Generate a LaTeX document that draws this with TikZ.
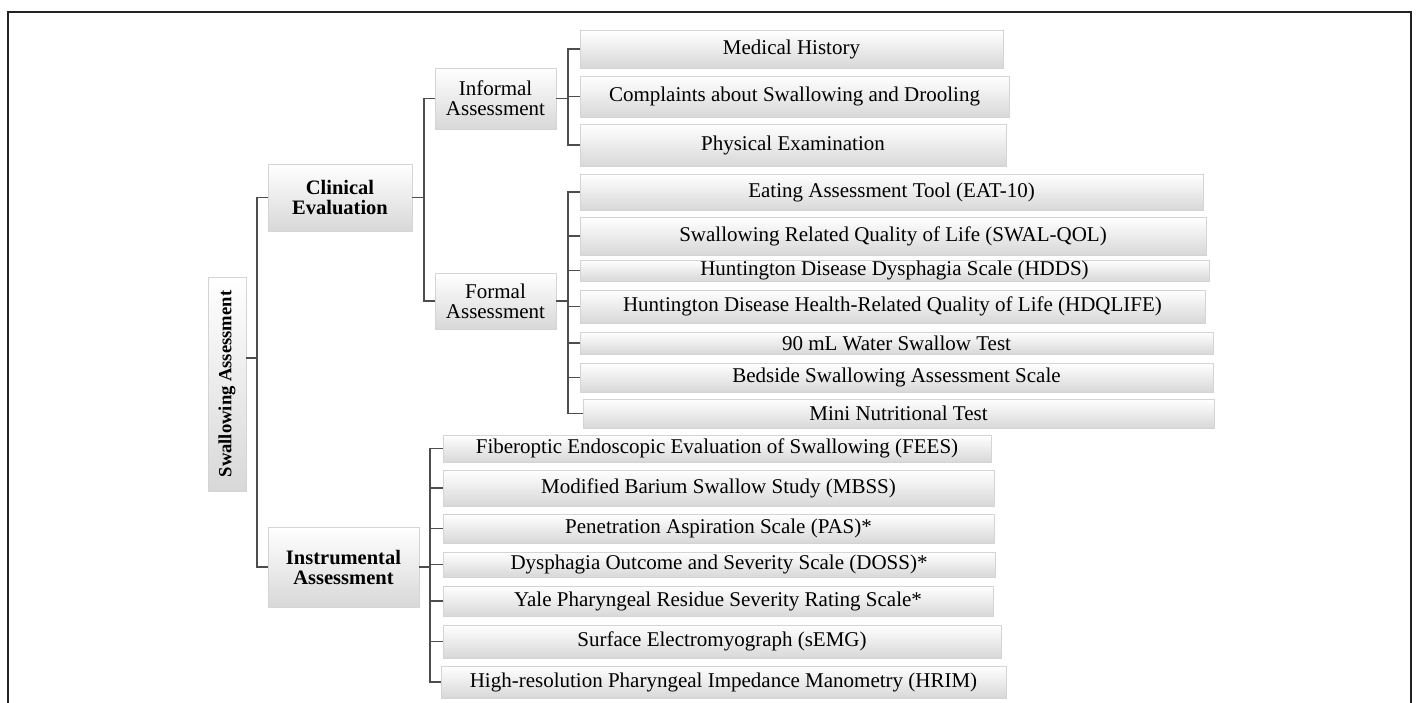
\documentclass[tikz,border=0pt]{standalone}
\usepackage{fontspec}
\setmainfont{Liberation Serif}
\definecolor{clink}{HTML}{4D4D4D}
\definecolor{cframe}{HTML}{222222}
\definecolor{cedge}{HTML}{D4D4D4}
\definecolor{cshade}{HTML}{D8D8D8}
\tikzset{
  every picture/.style={x=1pt, y=-1pt, font=\fontsize{21}{20}\selectfont},
  box/.style={draw=cedge, line width=0.8pt, top color=white, middle color=white, bottom color=cshade, align=center, inner sep=0pt},
  head/.style={box, font=\fontsize{20.5}{20}\selectfont\bfseries},
  link/.style={draw=clink, line width=1.4pt},
}

\begin{document}
\begin{tikzpicture}
  \useasboundingbox (0,0) rectangle (1418,702);
  % boxes given as left/right/top/bottom in pixels, y downwards
  \node[head, minimum width=38pt, minimum height=214pt, font=\fontsize{18.6}{20}\selectfont\bfseries] (root) at (227,384) {\rotatebox{90}{Swallowing Assessment}};
  \foreach \n/\xl/\xr/\yt/\yb/\txt in {clin/268/412/164/231/{Clinical\\Evaluation}, instr/268/419/527/607/{Instrumental\\Assessment}}
    \node[head, minimum width={(\xr-\xl)*1pt}, minimum height={(\yb-\yt)*1pt}] (\n) at ({(\xl+\xr)/2},{(\yt+\yb)/2}) {\txt};
  \foreach \n/\xl/\xr/\yt/\yb/\txt in {inf/435/556/68/129/{Informal\\Assessment}, form/435/556/273/329/{Formal\\Assessment},
      med/580/1003/30/68/{Medical History},
      comp/580/1009/76/117/{Complaints about Swallowing and Drooling},
      phys/580/1006/124/166/{Physical Examination},
      eat/580/1203/174/210/{Eating Assessment Tool (EAT-10)},
      swal/580/1206/217/255/{Swallowing Related Quality of Life (SWAL-QOL)},
      hdds/580/1209/260/281/{Huntington Disease Dysphagia Scale (HDDS)},
      hdq/580/1205/290/323/{Huntington Disease Health-Related Quality of Life (HDQLIFE)},
      wst/580/1213/332/354/{90 mL Water Swallow Test},
      bed/580/1213/363/392/{Bedside Swallowing Assessment Scale},
      mini/583/1214/399/428/{Mini Nutritional Test},
      fees/443/991/435/462/{Fiberoptic Endoscopic Evaluation of Swallowing (FEES)},
      mbss/443/994/470/506/{Modified Barium Swallow Study (MBSS)},
      pas/443/994/514/543/{Penetration Aspiration Scale (PAS)*},
      doss/443/995/552/577/{Dysphagia Outcome and Severity Scale (DOSS)*},
      yale/443/993/586/616/{Yale Pharyngeal Residue Severity Rating Scale*},
      semg/443/1001/625/658/{Surface Electromyograph (sEMG)},
      hrim/441/1006/666/698/{High-resolution Pharyngeal Impedance Manometry (HRIM)}}
    \node[box, minimum width={(\xr-\xl)*1pt}, minimum height={(\yb-\yt)*1pt}] (\n) at ({(\xl+\xr)/2},{(\yt+\yb)/2}) {\txt};
  % connectors
  \coordinate (busR) at (257,358);
  \draw[link] (root.east |- busR) -- (busR);
  \draw[link] (clin.west) -| (busR) |- (instr.west);
  \coordinate (busC) at (424,0);
  \draw[link] (clin.east) -- (clin.east -| busC);
  \foreach \n in {inf,form} \draw[link] (clin.east -| busC) |- (\n.west);
  \coordinate (busI) at (568,0);
  \draw[link] (inf.east) -- (inf.east -| busI);
  \foreach \n in {med,comp,phys} \draw[link] (inf.east -| busI) |- (\n.west);
  \draw[link] (form.east) -- (form.east -| busI);
  \foreach \n in {eat,swal,hdds,hdq,wst,bed,mini} \draw[link] (form.east -| busI) |- (\n.west);
  \coordinate (busM) at (430,0);
  \draw[link] (instr.east) -- (instr.east -| busM);
  \foreach \n in {fees,mbss,pas,doss,yale,semg,hrim} \draw[link] (instr.east -| busM) |- (\n.west);
  % frame
  \draw[cframe, line width=2.6pt] (8,720) -- (8,12) -- (1411,12) -- (1411,720);
\end{tikzpicture}
\end{document}
